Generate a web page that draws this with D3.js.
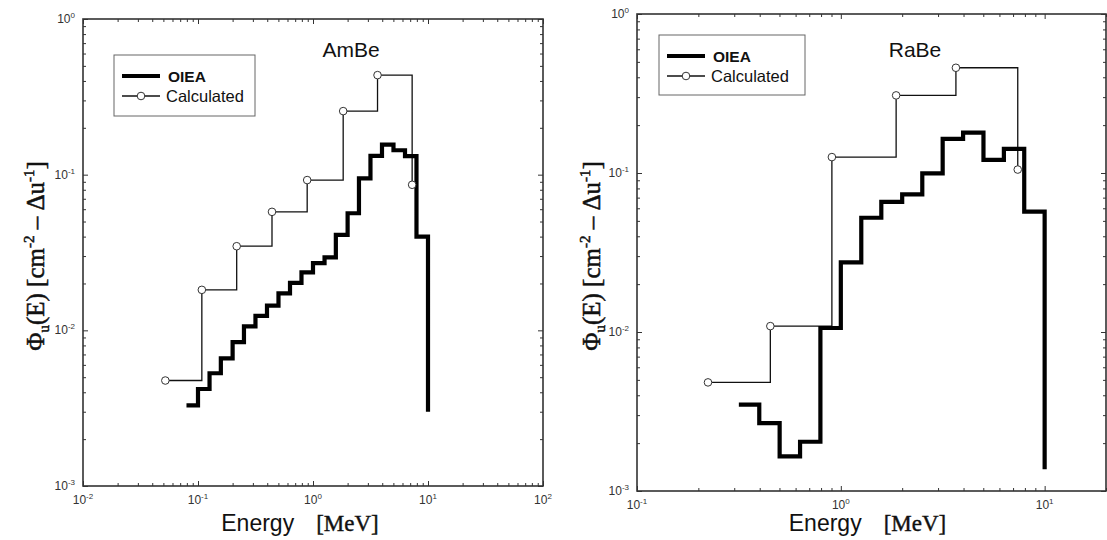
<!DOCTYPE html>
<html>
<head>
<meta charset="utf-8">
<script src="https://cdn.jsdelivr.net/npm/d3@7"></script>
<style>
body { margin: 0; background: #fff; }
</style>
</head>
<body>
<div id="chart"></div>
<script>
// values (energy in MeV, fluence per lethargy)
var amBeOieaEnergy = [0.0794, 0.1, 0.126, 0.158, 0.2, 0.251, 0.316, 0.398, 0.501, 0.631, 0.794,
  1.0, 1.26, 1.58, 2.0, 2.51, 3.16, 3.98, 5.01, 6.31, 7.94, 10]
var amBeOieaFlux = [0.0033, 0.0042, 0.0053, 0.0066, 0.0084, 0.0106, 0.0124, 0.0144, 0.0173, 0.0202, 0.0236,
  0.027, 0.0294, 0.041, 0.0565, 0.0947, 0.132, 0.156, 0.1435, 0.1317, 0.040, 0.0030]
var amBeCalcEnergy = [0.052, 0.108, 0.217, 0.44, 0.89, 1.83, 3.64, 7.28]
var amBeCalcFlux = [0.00476, 0.0182, 0.0347, 0.0577, 0.0923, 0.256, 0.436, 0.0861]

var raBeOieaEnergy = [0.316, 0.398, 0.501, 0.631, 0.794, 1.0, 1.26, 1.58, 2.0, 2.51, 3.16, 3.98, 5.01, 6.31, 7.94, 10]
var raBeOieaFlux = [0.00349, 0.00267, 0.00165, 0.00204, 0.0106, 0.0274, 0.0523, 0.0658, 0.0734, 0.0995,
  0.164, 0.1795, 0.121, 0.142, 0.0572, 0.00137]
var raBeCalcEnergy = [0.223, 0.451, 0.904, 1.868, 3.67, 7.38]
var raBeCalcFlux = [0.00482, 0.01089, 0.1259, 0.3077, 0.459, 0.1051]

var legendLabels = ["OIEA", "Calculated"]
var yDecades = [1, 0.1, 0.01, 0.001]
var yTickExps = ["0", "-1", "-2", "-3"]

var sans = "'Liberation Sans', Arial, sans-serif"
var serif = "'Liberation Serif', 'Times New Roman', serif"

var svg = d3.select("#chart")
  .append("svg")
  .attr("width", 1107)
  .attr("height", 540)

svg.append("rect").attr("width", 1107).attr("height", 540).attr("fill", "#fff")

function minorsOf(majors) {
  var out = []
  majors.slice(0, -1).forEach(function (m) {
    for (var k = 2; k <= 9; k++) out.push(m * k)
  })
  return out
}

function drawPanel(p) {
  var x = d3.scaleLog().domain(p.xDomain).range([p.left, p.right])
  var y = d3.scaleLog().domain([0.001, 1]).range([p.bottom, p.top])
  var g = svg.append("g")

  var yMajors = yDecades.slice().reverse()
  var xMinors = minorsOf(p.xMajors)
  var last = p.xMajors[p.xMajors.length - 1]
  for (var k = 2; k <= 9 && last * k <= p.xDomain[1]; k++) xMinors.push(last * k)
  var yMinors = minorsOf(yMajors)

  // inward ticks on all four sides
  var sides = [
    [d3.axisBottom(x), "translate(0," + p.bottom + ")", p.xMajors, xMinors],
    [d3.axisTop(x), "translate(0," + p.top + ")", p.xMajors, xMinors],
    [d3.axisLeft(y), "translate(" + p.left + ",0)", yMajors, yMinors],
    [d3.axisRight(y), "translate(" + p.right + ",0)", yMajors, yMinors]
  ]
  sides.forEach(function (s) {
    var ax = g.append("g").attr("transform", s[1])
    ax.call(s[0].tickValues(s[3]).tickSize(-3).tickFormat(""))
    ax.select(".domain").remove()
    ax.selectAll("line").attr("stroke", "#333").attr("stroke-width", 1)
    var ax2 = g.append("g").attr("transform", s[1])
    ax2.call(s[0].tickValues(s[2]).tickSize(-5).tickFormat(""))
    ax2.select(".domain").remove()
    ax2.selectAll("line").attr("stroke", "#333").attr("stroke-width", 1)
  })

  g.append("rect")
    .attr("x", p.left).attr("y", p.top)
    .attr("width", p.right - p.left).attr("height", p.bottom - p.top)
    .attr("fill", "none").attr("stroke", "#333").attr("stroke-width", 1.6)

  // tick labels with superscript exponents
  p.xMajors.forEach(function (v, i) {
    var t = g.append("text")
      .attr("x", x(v)).attr("y", p.bottom + 18)
      .attr("text-anchor", "middle")
      .attr("font-family", sans).attr("font-size", 12).attr("fill", "#333")
    t.append("tspan").text("10")
    t.append("tspan").attr("dy", -5).attr("font-size", 8).text(p.xExps[i])
  })
  yMajors.forEach(function (v) {
    var i = yDecades.indexOf(v)
    var t = g.append("text")
      .attr("x", p.left - 8).attr("y", y(v) + 4)
      .attr("text-anchor", "end")
      .attr("font-family", sans).attr("font-size", 12).attr("fill", "#333")
    t.append("tspan").text("10")
    t.append("tspan").attr("dy", -5).attr("font-size", 8).text(yTickExps[i])
  })

  var line = d3.line()
    .x(function (d) { return x(d[0]) })
    .y(function (d) { return y(d[1]) })
    .curve(d3.curveStepAfter)

  var oiea = d3.zip(p.oieaE, p.oieaF)
  var calc = d3.zip(p.calcE, p.calcF)

  g.append("path").datum(calc).attr("d", line)
    .attr("fill", "none").attr("stroke", "#111").attr("stroke-width", 1.3)
  g.append("path").datum(oiea).attr("d", line)
    .attr("fill", "none").attr("stroke", "#000").attr("stroke-width", 4.2)
  g.selectAll("circle.calc").data(calc).enter().append("circle")
    .attr("class", "calc")
    .attr("cx", function (d) { return x(d[0]) })
    .attr("cy", function (d) { return y(d[1]) })
    .attr("r", 3.8)
    .attr("fill", "#fff").attr("stroke", "#333").attr("stroke-width", 1)

  // title
  g.append("text").attr("x", p.titleX).attr("y", 57)
    .attr("text-anchor", "middle")
    .attr("font-family", sans).attr("font-size", 21).attr("fill", "#111")
    .text(p.title)

  // legend
  var L = p.legend
  g.append("rect").attr("x", L.x).attr("y", L.y).attr("width", L.w).attr("height", L.h)
    .attr("fill", "#fff").attr("stroke", "#666").attr("stroke-width", 1)
  g.append("line").attr("x1", L.x + 8).attr("x2", L.x + 46)
    .attr("y1", L.y + 21).attr("y2", L.y + 21)
    .attr("stroke", "#000").attr("stroke-width", 4.2)
  g.append("text").attr("x", L.x + 54).attr("y", L.y + 27)
    .attr("font-family", sans).attr("font-size", 15.5).attr("font-weight", "bold")
    .attr("fill", "#111").text(legendLabels[0])
  g.append("line").attr("x1", L.x + 8).attr("x2", L.x + 46)
    .attr("y1", L.y + 41).attr("y2", L.y + 41)
    .attr("stroke", "#111").attr("stroke-width", 1.3)
  g.append("circle").attr("cx", L.x + 27).attr("cy", L.y + 41).attr("r", 3.8)
    .attr("fill", "#fff").attr("stroke", "#333")
  g.append("text").attr("x", L.x + 52).attr("y", L.y + 47)
    .attr("font-family", sans).attr("font-size", 16.5)
    .attr("fill", "#111").text(legendLabels[1])

  // x axis title
  var xt = g.append("text").attr("x", (p.left + p.right) / 2 + p.xTitleShift).attr("y", 531)
    .attr("text-anchor", "middle").attr("fill", "#111").attr("font-size", 23)
  xt.append("tspan").attr("font-family", sans).text("Energy")
  xt.append("tspan").attr("font-family", serif).attr("dx", 22)
    .attr("stroke", "#111").attr("stroke-width", 0.4).text("[MeV]")

  // y axis title
  var yt = g.append("text")
    .attr("transform", "translate(" + p.yTitleX + ",256) rotate(-90)")
    .attr("text-anchor", "middle").attr("fill", "#111")
    .attr("stroke", "#111").attr("stroke-width", 0.5)
    .attr("font-family", serif).attr("font-size", 25)
  yt.append("tspan").text("Φ")
  yt.append("tspan").attr("dy", 5).attr("font-size", 15).text("u")
  yt.append("tspan").attr("dy", -5).text("(E) [cm")
  yt.append("tspan").attr("dy", -10).attr("font-size", 15).text("-2")
  yt.append("tspan").attr("dy", 10).text(" – Δu")
  yt.append("tspan").attr("dy", -10).attr("font-size", 15).text("-1")
  yt.append("tspan").attr("dy", 10).text("]")
}

drawPanel({
  left: 83, right: 543, top: 19, bottom: 486,
  xDomain: [0.01, 100], xMajors: [0.01, 0.1, 1, 10, 100], xExps: ["-2", "-1", "0", "1", "2"],
  oieaE: amBeOieaEnergy, oieaF: amBeOieaFlux, calcE: amBeCalcEnergy, calcF: amBeCalcFlux,
  title: "AmBe", titleX: 351, xTitleShift: -13, yTitleX: 44,
  legend: { x: 114, y: 55, w: 141, h: 61 }
})

drawPanel({
  left: 637, right: 1106, top: 14, bottom: 491,
  xDomain: [0.1, 20], xMajors: [0.1, 1, 10], xExps: ["-1", "0", "1"],
  oieaE: raBeOieaEnergy, oieaF: raBeOieaFlux, calcE: raBeCalcEnergy, calcF: raBeCalcFlux,
  title: "RaBe", titleX: 915, xTitleShift: -4, yTitleX: 600,
  legend: { x: 659, y: 35, w: 146, h: 60 }
})
</script>
</body>
</html>
